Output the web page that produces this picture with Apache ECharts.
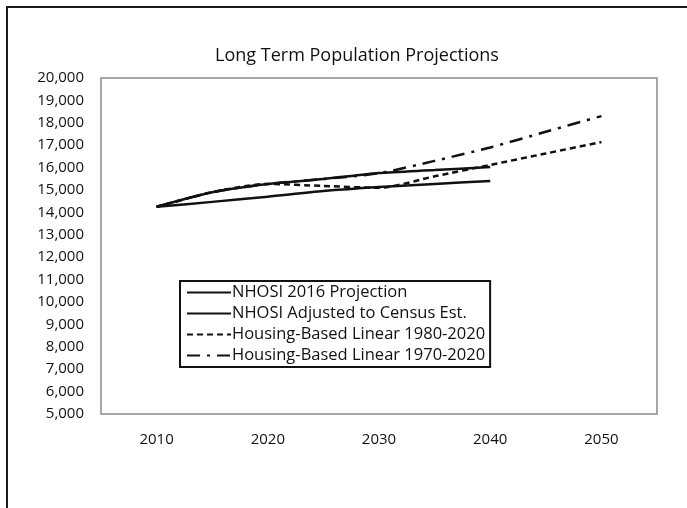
<!DOCTYPE html>
<html>
<head>
<meta charset="utf-8">
<script src="https://cdn.jsdelivr.net/npm/echarts@6/dist/echarts.min.js"></script>
<style>
  html, body { margin: 0; padding: 0; background: #fff; overflow: hidden; }
  #chart { position: absolute; left: 0; top: 0; width: 687px; height: 508px; }
  #frame { position: absolute; left: 6px; top: 6px; width: 720px; height: 540px;
           border: 2px solid #1a1a1a; box-sizing: border-box; pointer-events: none; }
</style>
</head>
<body>
<div id="chart"></div>
<div id="frame"></div>
<script>
// Projection years (5-year steps) and the decade labels on the x axis
const years = [2010, 2015, 2020, 2025, 2030, 2035, 2040, 2045, 2050];
const yearLabels = [2010, 2020, 2030, 2040, 2050];

// Population projections per series (null = no projection for that year)
const nhosi2016 = [14250, 14470, 14700, 14950, 15130, 15270, 15400, null, null];
const nhosiAdjusted = [14250, 14900, 15270, 15490, 15760, 15890, 16030, null, null];
const housing1980 = [14250, 14900, 15270, 15180, 15100, 15610, 16120, 16630, 17140];
const housing1970 = [14250, 14900, 15270, 15490, 15750, 16300, 16900, 17600, 18300];

const seriesNames = [
  'NHOSI 2016 Projection',
  'NHOSI Adjusted to Census Est.',
  'Housing-Based Linear 1980-2020',
  'Housing-Based Linear 1970-2020'
];

const FONT = '"Open Sans", sans-serif';
const pairs = arr => years.map((y, i) => [y, arr[i]]).filter(p => p[1] !== null);

function lineSeries(name, values, dash) {
  return {
    name: name,
    type: 'line',
    data: pairs(values),
    showSymbol: false,
    symbol: 'none',
    smooth: 0.25,
    lineStyle: { color: '#111', width: 2.5, type: dash || 'solid' },
    itemStyle: { color: '#111' },
    emphasis: { disabled: true }
  };
}

const chart = echarts.init(document.getElementById('chart'), null, { renderer: 'canvas' });
chart.setOption({
  animation: false,
  backgroundColor: '#fff',
  title: {
    text: 'Long Term Population Projections',
    left: 352,
    top: 42,
    textAlign: 'center',
    textStyle: { fontFamily: FONT, fontSize: 18, fontWeight: 'normal', color: '#111' }
  },
  grid: {
    left: 101, right: 30, top: 78, bottom: 94,
    show: true, borderColor: '#8a8a8a', borderWidth: 1.5, backgroundColor: 'transparent'
  },
  legend: {
    orient: 'vertical',
    left: 180,
    top: 281,
    padding: [3, 5, 3, 6],
    itemGap: 4,
    itemWidth: 44,
    itemHeight: 17,
    borderColor: '#111',
    borderWidth: 2,
    backgroundColor: '#fff',
    data: seriesNames,
    itemStyle: { opacity: 0 },
    textStyle: { fontFamily: FONT, fontSize: 16.5, color: '#111', padding: [0, 0, 0, -4] }
  },
  xAxis: {
    type: 'value',
    min: 2005,
    max: 2055,
    axisLine: { show: false },
    axisTick: { show: false },
    splitLine: { show: false },
    axisLabel: {
      customValues: yearLabels,
      margin: 18,
      fontFamily: FONT, fontSize: 15, color: '#111',
      formatter: v => String(v)
    }
  },
  yAxis: {
    type: 'value',
    min: 5000,
    max: 20000,
    interval: 1000,
    axisLine: { show: false },
    axisTick: { show: false },
    splitLine: { show: false },
    axisLabel: {
      margin: 17,
      fontFamily: FONT, fontSize: 15, color: '#111',
      formatter: v => v.toLocaleString('en-US')
    }
  },
  series: [
    lineSeries(seriesNames[0], nhosi2016),
    lineSeries(seriesNames[1], nhosiAdjusted),
    lineSeries(seriesNames[2], housing1980, [6, 4]),
    lineSeries(seriesNames[3], housing1970, [13, 7, 3, 7])
  ]
});
</script>
</body>
</html>
